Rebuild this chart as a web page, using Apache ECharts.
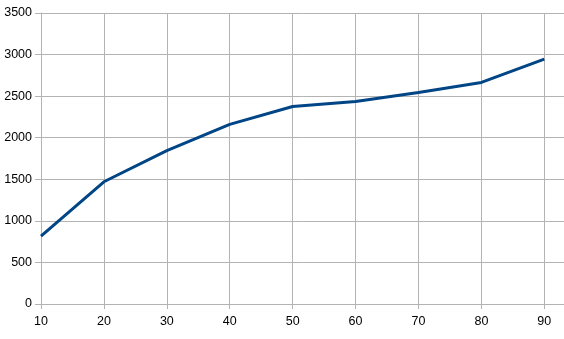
<!DOCTYPE html>
<html><head><meta charset="utf-8">
<script src="https://cdn.jsdelivr.net/npm/echarts@6/dist/echarts.min.js"></script>
<style>html,body{margin:0;padding:0;background:#fff}#c{width:564px;height:339px}</style>
</head><body><div id="c"></div>
<script>
const xValues = [10, 20, 30, 40, 50, 60, 70, 80, 90];
const yValues = [815, 1470, 1845, 2160, 2375, 2435, 2545, 2665, 2945];
const chart = echarts.init(document.getElementById('c'), null, {renderer: 'canvas'});
const gridColor = '#b3b3b3';
const font = {color: '#000', fontFamily: 'Liberation Sans, Arial, sans-serif', fontSize: 12.5};
chart.setOption({
  animation: false,
  grid: {left: 41, right: 0, top: 13, bottom: 35, containLabel: false},
  xAxis: {
    type: 'value', min: 10, max: 93.13, interval: 10,
    axisLine: {show: true, lineStyle: {color: gridColor}},
    axisTick: {show: true, length: 5, lineStyle: {color: gridColor}},
    splitLine: {show: true, lineStyle: {color: gridColor}},
    axisLabel: Object.assign({margin: 11, showMaxLabel: false, formatter: v => (v % 10 === 0 ? String(v) : '')}, font)
  },
  yAxis: {
    type: 'value', min: 0, max: 3500, interval: 500,
    axisLine: {show: true, lineStyle: {color: gridColor}},
    axisTick: {show: true, length: 6, lineStyle: {color: gridColor}},
    splitLine: {show: true, lineStyle: {color: gridColor}},
    axisLabel: Object.assign({margin: 9, formatter: v => String(v)}, font)
  },
  series: [{
    type: 'line',
    data: xValues.map((x, i) => [x, yValues[i]]),
    symbol: 'none',
    lineStyle: {color: '#004586', width: 3},
    itemStyle: {color: '#004586'}
  }]
});
</script></body></html>
